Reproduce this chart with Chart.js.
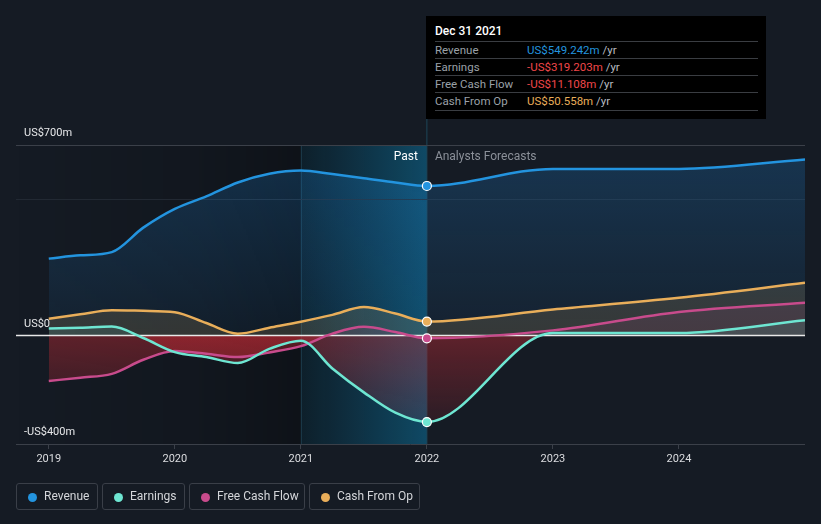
<!DOCTYPE html>
<html>
<head>
<meta charset="utf-8">
<script src="https://cdn.jsdelivr.net/npm/chart.js@4.4.1/dist/chart.umd.min.js"></script>
<style>
  html, body { margin:0; padding:0; background:#151b24; }
  body { width:821px; height:524px; position:relative; overflow:hidden; font-family: Roboto, "Noto Sans", sans-serif; }
  #wrap { position:absolute; left:0; top:0; width:821px; height:524px; }
  #tip { position:absolute; left:426px; top:16px; width:340px; height:103px; background:#000; }
  #tip .title { position:absolute; left:9px; top:8px; font-size:12px; color:#fff; font-weight:500; }
  #tip .row { position:absolute; left:9px; width:323px; height:17px; border-top:1px solid #3a3d42; font-size:11.5px; line-height:17px; }
  #tip .row .lab { position:absolute; left:0; color:#9ba0a8; }
  #tip .row .val { position:absolute; left:92px; }
  #tip .row .yr { color:#b9bcc2; }
  #tip .last { position:absolute; left:9px; width:323px; top:94px; border-top:1px solid #3a3d42; }
  .leg { position:absolute; top:483px; height:27px; border:1px solid #3a3f48; border-radius:3px; box-sizing:border-box; font-size:12px; color:#d4d6da; line-height:25px; }
  .leg .dot { position:absolute; left:11px; top:8.5px; width:9px; height:9px; border-radius:50%; }
  .leg .t { position:absolute; left:27px; white-space:nowrap; }
</style>
</head>
<body>
<div id="wrap"><canvas id="c" width="821" height="524"></canvas></div>
<div id="tip">
  <div class="title">Dec 31 2021</div>
  <div class="row" style="top:25px"><span class="lab">Revenue</span><span class="val"><span style="color:#2394df">US$549.242m</span> <span class="yr">/yr</span></span></div>
  <div class="row" style="top:42px"><span class="lab">Earnings</span><span class="val"><span style="color:#f0474a">-US$319.203m</span> <span class="yr">/yr</span></span></div>
  <div class="row" style="top:59px"><span class="lab">Free Cash Flow</span><span class="val"><span style="color:#f0474a">-US$11.108m</span> <span class="yr">/yr</span></span></div>
  <div class="row" style="top:76px"><span class="lab">Cash From Op</span><span class="val"><span style="color:#e9ae5a">US$50.558m</span> <span class="yr">/yr</span></span></div>
  <div class="last"></div>
</div>
<div class="leg" style="left:16px;width:82px"><span class="dot" style="background:#2394df"></span><span class="t">Revenue</span></div>
<div class="leg" style="left:102px;width:83px"><span class="dot" style="background:#6ee6d2"></span><span class="t">Earnings</span></div>
<div class="leg" style="left:189px;width:116px"><span class="dot" style="background:#c84b8c"></span><span class="t">Free Cash Flow</span></div>
<div class="leg" style="left:309px;width:111px"><span class="dot" style="background:#e9ae5a"></span><span class="t">Cash From Op</span></div>
<script>
// ---- data (US$ millions, trailing twelve months; x = decimal year) ----
const periods  = [2019, 2019.25, 2019.5, 2019.75, 2020, 2020.25, 2020.5, 2020.75, 2021, 2021.25, 2021.5, 2021.75, 2022, 2023, 2024, 2025];
const revenue  = [282, 294, 306, 396, 465, 511, 562, 594, 606, 593, 578, 562, 549.242, 612, 612, 647];
const earnings = [25, 28, 32, -10, -62, -80, -102, -50, -20, -122, -210, -285, -319.203, 8, 8, 55];
const fcf      = [-168, -156, -142, -90, -58, -68, -80, -63, -40, 6, 31, 12, -11.108, 18, 86, 120];
const cfo      = [61, 77, 92, 90, 85, 45, 6, 28, 50, 75, 104, 80, 50.558, 95, 138, 193];
const yearTicks = [2019, 2020, 2021, 2022, 2023, 2024];
const yLabels = [{v:700, t:'US$700m'}, {v:0, t:'US$0'}, {v:-400, t:'-US$400m'}];
const lastActual = 2022;
const highlightStart = 2021;

const pts = arr => arr.map((y, i) => ({x: periods[i], y}));
const markerIdx = periods.indexOf(lastActual);

function mkSet(label, data, color, above, below) {
  return {
    label, data: pts(data), borderColor: color, borderWidth: 2.5,
    cubicInterpolationMode: 'monotone',
    pointRadius: ctx => ctx.dataIndex === markerIdx ? 4.5 : 0,
    pointHoverRadius: 0,
    pointBackgroundColor: color, pointBorderColor: '#ffffff', pointBorderWidth: 1.2,
    fill: {target: 'origin', above, below}
  };
}

const bgPlugin = {
  id: 'bg',
  beforeDraw(chart) {
    const {ctx, chartArea: a, scales: {x}} = chart;
    const x1 = x.getPixelForValue(highlightStart), x2 = x.getPixelForValue(lastActual);
    ctx.save();
    let g = ctx.createLinearGradient(a.left, 0, x1, 0);
    g.addColorStop(0, 'rgba(0,0,0,0)');
    g.addColorStop(0.65, 'rgba(0,0,0,0.14)');
    g.addColorStop(1, 'rgba(0,0,0,0.32)');
    ctx.fillStyle = g;
    ctx.fillRect(a.left, a.top, x1 - a.left, a.bottom - a.top);
    g = ctx.createLinearGradient(x1, 0, x2, 0);
    g.addColorStop(0, 'rgba(8,35,48,0.55)');
    g.addColorStop(1, 'rgba(12,105,145,0.6)');
    ctx.fillStyle = g;
    ctx.fillRect(x1, a.top, x2 - x1, a.bottom - a.top);
    ctx.strokeStyle = 'rgba(40,80,100,0.6)';
    ctx.lineWidth = 1;
    ctx.beginPath(); ctx.moveTo(x1 + 0.5, a.top); ctx.lineTo(x1 + 0.5, a.bottom); ctx.stroke();
    ctx.strokeStyle = '#1d4558';
    ctx.beginPath(); ctx.moveTo(x2, 119); ctx.lineTo(x2, a.bottom); ctx.stroke();
    ctx.restore();
  },
  beforeDatasetsDraw(chart) {
    const {ctx, chartArea: a, scales: {y}} = chart;
    const y0 = Math.round(y.getPixelForValue(0)) + 0.5;
    ctx.save();
    ctx.strokeStyle = '#e8e8e8'; ctx.lineWidth = 1.5;
    ctx.beginPath(); ctx.moveTo(a.left, y0); ctx.lineTo(a.right, y0); ctx.stroke();
    ctx.restore();
  },
  afterDraw(chart) {
    const {ctx, chartArea: a, scales: {x, y}} = chart;
    ctx.save();
    ctx.font = '11px Roboto, "Noto Sans", sans-serif';
    ctx.fillStyle = '#e6e7e9';
    ctx.textBaseline = 'middle';
    yLabels.forEach(l => ctx.fillText(l.t, 24, y.getPixelForValue(l.v) - 11.5));
    const x2 = x.getPixelForValue(lastActual);
    ctx.font = '12px Roboto, "Noto Sans", sans-serif';
    ctx.textAlign = 'right'; ctx.fillStyle = '#ffffff';
    ctx.fillText('Past', x2 - 9, a.top + 12);
    ctx.textAlign = 'left'; ctx.fillStyle = '#8b9099';
    ctx.fillText('Analysts Forecasts', x2 + 8, a.top + 12);
    ctx.restore();
  }
};

const revFill = ctx => {
  const a = ctx.chart.chartArea;
  if (!a) return 'rgba(33,150,243,0.15)';
  const g = ctx.chart.ctx.createLinearGradient(0, a.top, 0, ctx.chart.scales.y.getPixelForValue(0));
  g.addColorStop(0, 'rgba(33,150,243,0.22)');
  g.addColorStop(1, 'rgba(33,150,243,0.06)');
  return g;
};
const redFill = ctx => {
  const a = ctx.chart.chartArea;
  if (!a) return 'rgba(200,45,55,0.25)';
  const g = ctx.chart.ctx.createLinearGradient(0, ctx.chart.scales.y.getPixelForValue(0), 0, a.bottom);
  g.addColorStop(0, 'rgba(215,45,55,0.38)');
  g.addColorStop(1, 'rgba(215,45,55,0.05)');
  return g;
};

new Chart(document.getElementById('c'), {
  type: 'line',
  data: {
    datasets: [
      mkSet('Revenue', revenue, '#2394df', revFill, 'rgba(0,0,0,0)'),
      mkSet('Earnings', earnings, '#6ee6d2', 'rgba(110,230,210,0.12)', redFill),
      mkSet('Free Cash Flow', fcf, '#c84b8c', 'rgba(200,75,140,0.12)', redFill),
      mkSet('Cash From Op', cfo, '#e9ae5a', 'rgba(233,174,90,0.16)', 'rgba(0,0,0,0)')
    ]
  },
  options: {
    responsive: false, animation: false,
    layout: {padding: {left: 16, right: 16, top: 145, bottom: 50}},
    plugins: {legend: {display: false}, tooltip: {enabled: false}, filler: {drawTime: 'beforeDatasetsDraw'}},
    events: [],
    scales: {
      x: {
        type: 'linear', min: 2018.74, max: 2025,
        afterBuildTicks: s => { s.ticks = yearTicks.map(v => ({value: v})); },
        afterFit: s => { s.height = 30; },
        grid: {drawOnChartArea: false, drawTicks: true, tickLength: 5, color: '#3b4049'},
        border: {display: false},
        ticks: {color: '#dcdde0', font: {size: 11, family: 'Roboto'}, padding: 4, callback: v => String(v), maxRotation: 0}
      },
      y: {
        min: -400, max: 700,
        afterBuildTicks: s => { s.ticks = [-400, 500, 700].map(v => ({value: v})); },
        afterFit: s => { s.width = 0; },
        ticks: {display: false},
        border: {display: false},
        grid: {drawTicks: false, color: c => c.tick && c.tick.value === 500 ? '#222933' : '#3b4049', lineWidth: 1}
      }
    }
  },
  plugins: [bgPlugin]
});
</script>
</body>
</html>
